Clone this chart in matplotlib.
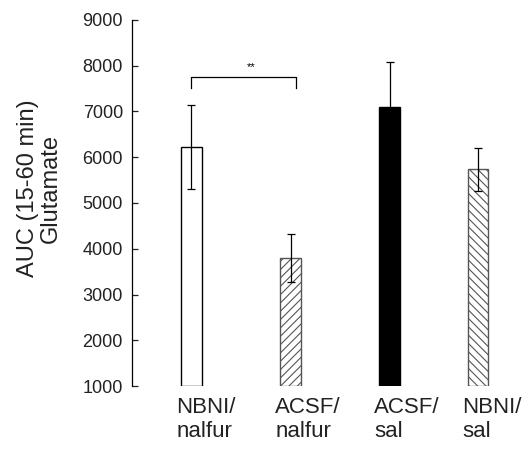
import matplotlib
matplotlib.use("Agg")
import matplotlib.pyplot as plt
import matplotlib.transforms as mtransforms

# ---- data ----
groups = ["NBNI/\nnalfur", "ACSF/\nnalfur", "ACSF/\nsal", "NBNI/\nsal"]
auc_mean = [6230, 3800, 7090, 5740]
auc_err = [920, 520, 990, 470]
sig_pair = (0, 1)
sig_label = "**"
y_ticks = [1000, 2000, 3000, 4000, 5000, 6000, 7000, 8000, 9000]

# ---- style ----
positions = [0, 1, 2, 2.89]
faces = ["white", "white", "black", "white"]
edges = ["black", "#555555", "black", "#555555"]
hatches = [None, "////", None, "\\\\\\\\"]
width = 0.21

plt.rcParams["font.family"] = ["Liberation Sans", "DejaVu Sans"]
plt.rcParams["hatch.linewidth"] = 0.8

fig = plt.figure(figsize=(5.31, 4.5), dpi=100)
ax = fig.add_axes([0.2486, 0.1422, 0.70, 0.8134])

for x, m, e, fc, ec, h in zip(positions, auc_mean, auc_err, faces, edges, hatches):
    ax.bar(x, m - 1000, bottom=1000, width=width, color=fc, edgecolor=ec,
           hatch=h, linewidth=1.0, zorder=2)
    ax.errorbar(x, m, yerr=e, fmt="none", ecolor="black", elinewidth=0.9,
                capsize=3, capthick=0.9, zorder=3)

# significance bracket
x0 = positions[sig_pair[0]]
x1 = positions[sig_pair[1]] + 0.05
y_br, drop = 7750, 240
ax.plot([x0, x0, x1, x1], [y_br - drop, y_br, y_br, y_br - drop],
        color="black", lw=0.9, zorder=3)
ax.text((x0 + x1) / 2 + 0.08, y_br + 120, sig_label, ha="center",
        va="bottom", fontsize=8)

ax.set_xlim(-0.6, 3.15)
ax.set_ylim(1000, 9000)
ax.set_yticks(y_ticks)
ax.tick_params(axis="y", direction="in", length=4, width=0.9,
               labelsize=13, pad=6.5, colors="#222222")
ax.set_xticks([])
for s in ("top", "right", "bottom"):
    ax.spines[s].set_visible(False)
ax.spines["left"].set_linewidth(0.9)

ax.set_ylabel("AUC (15-60 min)\nGlutamate", fontsize=17, color="#222222",
              linespacing=1.0)
ax.yaxis.set_label_coords(-0.19, 0.54)

trans = mtransforms.blended_transform_factory(ax.transData, ax.transAxes)
for x, lab in zip(positions, groups):
    ax.text(x - width / 2 - 0.05, -0.03, lab, transform=trans, ha="left",
            va="top", fontsize=16, color="#222222", linespacing=1.2)

fig.savefig("out.png", dpi=100)
